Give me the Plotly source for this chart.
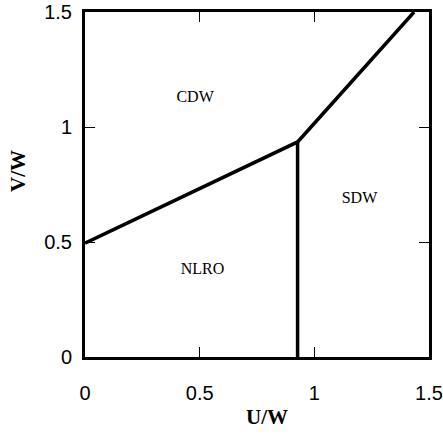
import plotly.graph_objects as go

# Phase boundaries
boundary_x = [0.0, 0.927, 1.435]
boundary_y = [0.495, 0.935, 1.5]
vertical_x = [0.927, 0.927]
vertical_y = [0.0, 0.935]

region_labels = ["CDW", "SDW", "NLRO"]
region_x = [0.48, 1.197, 0.512]
region_y = [1.124, 0.687, 0.378]

tick_vals = [0, 0.5, 1, 1.5]
tick_text = ["0", "0.5", "1", "1.5"]

fig = go.Figure()
fig.add_trace(go.Scatter(x=boundary_x, y=boundary_y, mode="lines",
                         line=dict(color="black", width=3.5), showlegend=False))
fig.add_trace(go.Scatter(x=vertical_x, y=vertical_y, mode="lines",
                         line=dict(color="black", width=3.5), showlegend=False))
fig.add_trace(go.Scatter(x=region_x, y=region_y, mode="text", text=region_labels,
                         textfont=dict(family="Liberation Serif", size=16, color="black"),
                         showlegend=False))

axis_common = dict(range=[0, 1.5], tickvals=tick_vals, ticktext=tick_text,
                   ticks="inside", ticklen=10, tickwidth=1, tickcolor="black",
                   showline=True, linecolor="black", linewidth=3, mirror="ticks",
                   showgrid=False, zeroline=False, automargin=False,
                   tickfont=dict(family="Liberation Sans", size=20, color="black"))

fig.update_xaxes(**axis_common, ticklabelstandoff=16)
fig.update_yaxes(**axis_common, ticklabelstandoff=6)

title_font = dict(family="Liberation Serif", size=21, color="black")
fig.add_annotation(text="<b>U/W</b>", xref="paper", yref="paper",
                   x=(267 - 85) / 344, y=-(417 - 357) / 345,
                   showarrow=False, xanchor="center", yanchor="middle", font=title_font)
fig.add_annotation(text="<b>V/W</b>", xref="paper", yref="paper",
                   x=-(85 - 18) / 344, y=(357 - 171) / 345, textangle=-90,
                   showarrow=False, xanchor="center", yanchor="middle", font=title_font)

fig.update_layout(width=443, height=434, margin=dict(l=85, r=14, t=12, b=77),
                  plot_bgcolor="white", paper_bgcolor="white")

fig.write_html("out.html", config={"displayModeBar": False})
with open("out.html", "r", encoding="utf-8") as f:
    html = f.read()
html = html.replace("<head>", "<head><style>html,body{margin:0;padding:0;overflow:hidden;}</style>", 1)
with open("out.html", "w", encoding="utf-8") as f:
    f.write(html)
